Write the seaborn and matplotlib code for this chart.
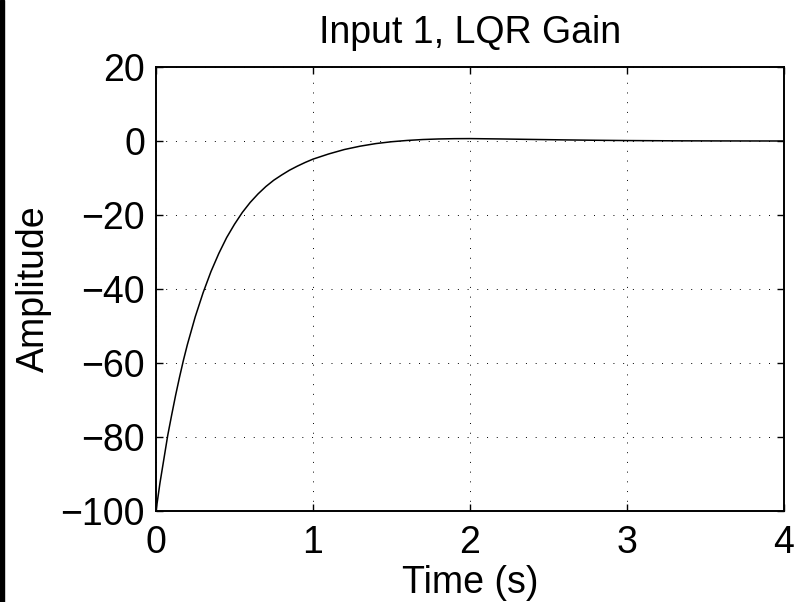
import matplotlib
matplotlib.use("Agg")
import matplotlib.pyplot as plt
import seaborn as sns
import pandas as pd
from matplotlib.patches import Rectangle

time_s = [0.0, 0.025, 0.05, 0.075, 0.1, 0.125, 0.15, 0.175, 0.2, 0.25, 0.3,
          0.35, 0.4, 0.45, 0.5, 0.55, 0.6, 0.65, 0.7, 0.75, 0.8, 0.85, 0.9,
          0.95, 1.0, 1.1, 1.2, 1.3, 1.4, 1.5, 1.6, 1.7, 1.8, 1.9, 2.0, 2.2,
          2.4, 2.6, 2.8, 3.0, 3.3, 3.6, 4.0]
amplitude = [-100.0, -92.5, -86.0, -79.5, -74.0, -68.7, -63.8, -59.2, -55.0,
             -47.5, -41.0, -35.3, -30.4, -26.1, -22.5, -19.3, -16.6, -14.3,
             -12.3, -10.6, -9.2, -7.9, -6.8, -5.8, -4.9, -3.5, -2.3, -1.4,
             -0.7, -0.2, 0.15, 0.4, 0.55, 0.63, 0.65, 0.55, 0.42, 0.3, 0.2,
             0.12, 0.05, 0.02, 0.0]
x_ticks = [0, 1, 2, 3, 4]
y_ticks = [-100, -80, -60, -40, -20, 0, 20]
title_text = "Input 1, LQR Gain"
x_label = "Time (s)"
y_label = "Amplitude"

sns.set_theme(style="white")
plt.rcParams['font.family'] = ['Liberation Sans', 'DejaVu Sans']
plt.rcParams['axes.unicode_minus'] = True

df = pd.DataFrame({"t": time_s, "y": amplitude})

fig = plt.figure(figsize=(7.96, 6.02), dpi=100)
ax = fig.add_axes([156/796, 1 - 511/602, (784 - 156)/796, (511 - 67)/602])

sns.lineplot(data=df, x="t", y="y", ax=ax, color="black", linewidth=1.1)

ax.set_xlim(0, 4)
ax.set_ylim(-100, 20)
ax.set_xticks(x_ticks)
ax.set_yticks(y_ticks)
ax.set_xticklabels([str(v) for v in x_ticks])
ax.set_yticklabels([str(v).replace('-', '\u2212') for v in y_ticks])

ax.grid(True, color="black", linestyle=(0, (1, 9)), linewidth=0.7)
for s in ax.spines.values():
    s.set_visible(True)
    s.set_color("black")
    s.set_linewidth(1.4)

FS = 27
ax.tick_params(axis="both", which="both", direction="in", length=5, width=1,
               top=True, right=True, bottom=True, left=True,
               labelsize=FS, colors="black")
ax.tick_params(axis="x", pad=10)
ax.tick_params(axis="y", pad=8)

ax.set_title(title_text, fontsize=FS, pad=17, color="black")
ax.set_xlabel(x_label, fontsize=FS, color="black", labelpad=3)
ax.set_ylabel(y_label, fontsize=FS, color="black", labelpad=6)

fig.patches.append(Rectangle((0, 0), 4/796, 1, transform=fig.transFigure,
                             color="black", zorder=10))

fig.savefig("out.png", dpi=100, facecolor="white")
